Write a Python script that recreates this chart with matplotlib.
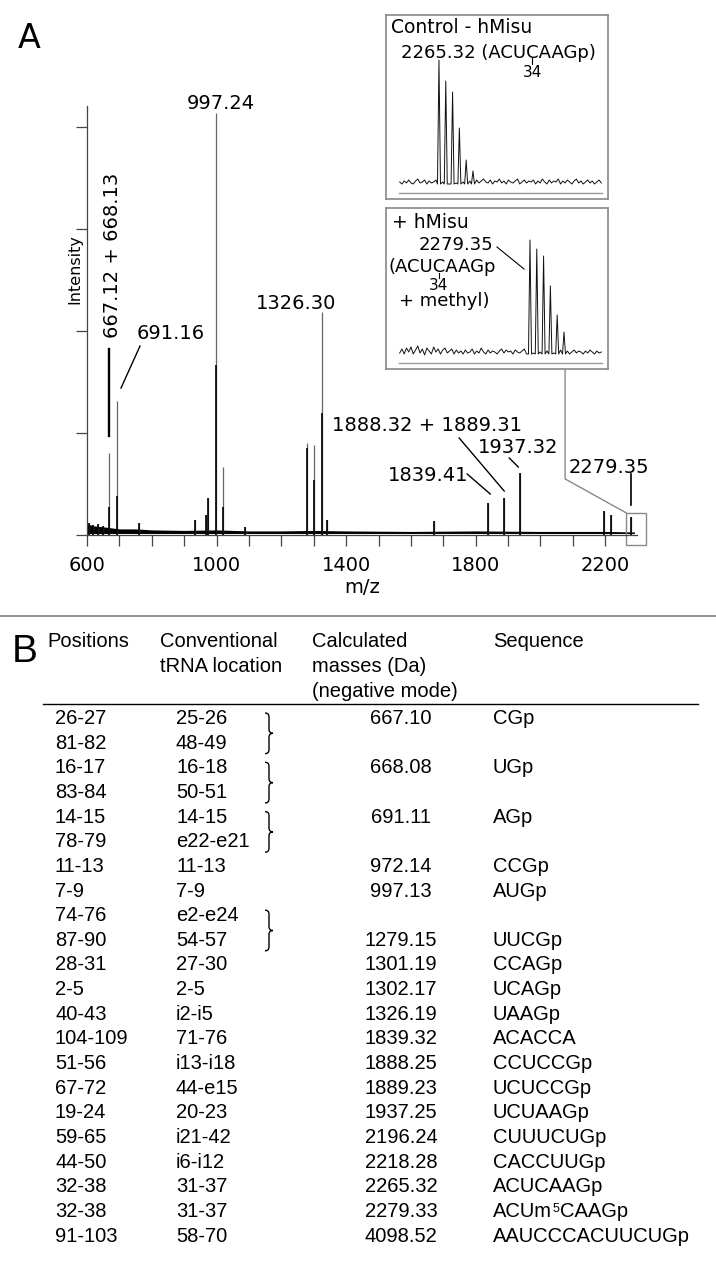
import numpy as np
import matplotlib
matplotlib.use('Agg')
import matplotlib.pyplot as plt
from matplotlib.path import Path
from matplotlib.patches import PathPatch, Rectangle
from matplotlib.lines import Line2D

# ---- panel A: main spectrum ----
peak_mz = [606, 620, 634, 648, 667.12, 691.16, 760, 934, 966, 972.14, 997.24, 1019,
           1088, 1279.15, 1301.19, 1326.30, 1341, 1672, 1839.41, 1888.8, 1937.32,
           2196.24, 2218.28, 2279.35]
peak_int = [0.12, 0.10, 0.11, 0.09, 0.80, 1.31, 0.12, 0.15, 0.20, 0.36, 4.14, 0.67,
            0.08, 0.90, 0.88, 2.19, 0.15, 0.14, 0.31, 0.36, 0.61, 0.24, 0.20, 0.18]
core_int = [0.12, 0.10, 0.11, 0.09, 0.27, 0.38, 0.12, 0.15, 0.20, 0.36, 1.67, 0.27,
            0.08, 0.85, 0.54, 1.20, 0.15, 0.14, 0.31, 0.36, 0.61, 0.24, 0.20, 0.18]

noise_mz = [600, 620, 650, 700, 750, 800, 900, 1000, 1100, 1200, 1300, 1400, 1600,
            1800, 2000, 2200, 2290]
noise_top = [0.11, 0.09, 0.08, 0.06, 0.06, 0.05, 0.045, 0.05, 0.04, 0.04, 0.045,
             0.04, 0.035, 0.04, 0.035, 0.035, 0.03]
noise_low = 0.015

x_ticks = [600, 1000, 1400, 1800, 2200]

# ---- insets ----
ins1_mz = [2265.32, 2266.32, 2267.32, 2268.32, 2269.32, 2270.32]
ins1_int = [133, 112, 101, 65, 33, 22]
ins1_noise = [11, 9, 12, 10, 13, 10, 9, 12, 14, 10, 11, 13, 9, 12, 10, 11, 13, 9, 12, 11,
              10, 12, 9, 13, 11, 10, 12, 9, 11, 13, 10, 12, 11, 9, 13, 10, 12, 14, 11, 10,
              13, 9, 12, 11, 14, 10, 12, 9, 13, 11, 10, 12, 14, 9, 11, 13, 10, 12, 11, 13,
              9, 12, 10, 14, 11, 9, 13, 10, 12, 11, 14, 9, 12, 10, 13, 11, 9, 12, 14, 10,
              12, 9, 11, 13, 10, 12, 9, 11, 13, 10]

ins2_mz = [2279.35, 2280.35, 2281.35, 2282.35, 2283.35, 2284.35]
ins2_int = [123, 114, 107, 77, 48, 31]
ins2_noise = [10, 14, 9, 15, 11, 16, 9, 13, 17, 10, 14, 8, 15, 12, 9, 16, 11, 14, 9, 13,
              15, 10, 12, 14, 9, 13, 10, 12, 9, 13, 10, 11, 14, 9, 12, 10, 15, 11, 9, 13,
              10, 12, 11, 9, 12, 14, 10, 13, 11, 12, 9, 13, 11, 10, 12, 14, 9, 12, 11, 10,
              12, 9, 11, 13, 10, 12, 9, 11, 10, 12, 9, 13, 11, 10, 12, 9, 11, 13, 10, 12,
              11, 9, 12, 10, 13, 11, 9, 12, 10, 11]

# ---- panel B: table ----
positions = ["26-27", "81-82", "16-17", "83-84", "14-15", "78-79", "11-13", "7-9",
             "74-76", "87-90", "28-31", "2-5", "40-43", "104-109", "51-56", "67-72",
             "19-24", "59-65", "44-50", "32-38", "32-38", "91-103"]
trna_loc = ["25-26", "48-49", "16-18", "50-51", "14-15", "e22-e21", "11-13", "7-9",
            "e2-e24", "54-57", "27-30", "2-5", "i2-i5", "71-76", "i13-i18", "44-e15",
            "20-23", "i21-42", "i6-i12", "31-37", "31-37", "58-70"]
masses = ["667.10", "", "668.08", "", "691.11", "", "972.14", "997.13", "", "1279.15",
          "1301.19", "1302.17", "1326.19", "1839.32", "1888.25", "1889.23", "1937.25",
          "2196.24", "2218.28", "2265.32", "2279.33", "4098.52"]
sequences = ["CGp", "", "UGp", "", "AGp", "", "CCGp", "AUGp", "", "UUCGp", "CCAGp",
             "UCAGp", "UAAGp", "ACACCA", "CCUCCGp", "UCUCCGp", "UCUAAGp", "CUUUCUGp",
             "CACCUUGp", "ACUCAAGp", "ACUm^5CAAGp", "AAUCCCACUUCUGp"]
brace_rows = [0, 2, 4, 8]

W, H = 716, 1265
plt.rcParams['font.family'] = 'DejaVu Sans'
fig = plt.figure(figsize=(W / 100, H / 100), dpi=100)


def fx(x):
    return x / W


def fy(y):
    return 1 - y / H


def fline(xs, ys, **kw):
    fig.add_artist(Line2D([fx(x) for x in xs], [fy(y) for y in ys],
                          transform=fig.transFigure, **kw))


# main axes
ax = fig.add_axes([fx(87), fy(535), fx(637) - fx(87), fy(106) - fy(535)])
ax.fill_between(noise_mz, noise_low, noise_top, color='black', lw=0)
ax.vlines(peak_mz, 0, peak_int, color='#666666', lw=0.9)
ax.vlines(peak_mz, 0, core_int, color='black', lw=1.2)
ax.set_xlim(600, 2298)
ax.set_ylim(0, 4.206)
for s in ['top', 'right']:
    ax.spines[s].set_visible(False)
for s in ['left', 'bottom']:
    ax.spines[s].set_color('#444444')
    ax.spines[s].set_linewidth(0.9)
ax.set_xticks(x_ticks)
ax.set_xticks(range(700, 2300, 100), minor=True)
ax.tick_params(axis='x', which='both', direction='out', length=8, width=0.9,
               color='#444444', labelsize=14, pad=7)
ax.set_yticks([0, 1, 2, 3, 4])
ax.set_yticklabels([])
ax.tick_params(axis='y', direction='out', length=8, width=0.9, color='#444444')
ax.set_xlabel('m/z', fontsize=14, labelpad=2.5)
fig.text(fx(79), fy(269), 'Intensity', rotation=90, rotation_mode='anchor',
         ha='center', va='baseline', fontsize=11.5)

# peak labels with leader lines
lab_kw = dict(fontsize=14, va='baseline', clip_on=False)
ax.text(1014, 4.176, '997.24', ha='center', **lab_kw)
ax.text(1245.6, 2.216, '1326.30', ha='center', **lab_kw)
ax.text(858, 1.922, '691.16', ha='center', **lab_kw)
ax.plot([763.7, 705], [1.853, 1.441], color='black', lw=1.0, clip_on=False)
ax.text(695.8, 2.745, '667.12 + 668.13', rotation=90, rotation_mode='anchor',
        ha='center', **lab_kw)
ax.plot([668, 668], [1.824, 0.971], color='black', lw=1.7, clip_on=False)
ax.text(1943.7, 1.020, '1888.32 + 1889.31', ha='right', **lab_kw)
ax.plot([1749, 1888], [0.951, 0.431], color='black', lw=1.0, clip_on=False)
ax.text(1931.4, 0.804, '1937.32', ha='center', **lab_kw)
ax.plot([1903.6, 1931.4], [0.755, 0.667], color='black', lw=1.0, clip_on=False)
ax.text(1653, 0.529, '1839.41', ha='center', **lab_kw)
ax.plot([1773.8, 1844.9], [0.598, 0.402], color='black', lw=1.0, clip_on=False)
ax.text(2212.5, 0.608, '2279.35', ha='center', **lab_kw)
ax.plot([2280, 2280], [0.598, 0.294], color='black', lw=1.2, clip_on=False)

# zoom box and connector to inset
ax.add_patch(Rectangle((2265, -0.098), 62, 0.314, fill=False, ec='#888888', lw=1.0,
                       clip_on=False))
ax.plot([2076, 2076, 2265], [1.63, 0.55, 0.216], color='#888888', lw=1.0, clip_on=False)


def trace(nx, ny, px, py, base, half=0.22):
    pts = [(x, y) for x, y in zip(nx, ny) if min(abs(x - p) for p in px) > half + 0.06]
    for p, h in zip(px, py):
        pts += [(p - half, base), (p, h), (p + half, base)]
    pts.sort()
    xs, ys = zip(*pts)
    return xs, ys


def inset(box, inner, xlim, ytop, nvals, pmz, pint):
    b = fig.add_axes([fx(box[0]), fy(box[3]), fx(box[2]) - fx(box[0]), fy(box[1]) - fy(box[3])])
    b.set_xticks([])
    b.set_yticks([])
    for sp in b.spines.values():
        sp.set_color('#888888')
        sp.set_linewidth(1.2)
    s = fig.add_axes([fx(inner[0]), fy(inner[3]), fx(inner[2]) - fx(inner[0]),
                      fy(inner[1]) - fy(inner[3])])
    s.patch.set_alpha(0)
    for k in ['top', 'right', 'left']:
        s.spines[k].set_visible(False)
    s.spines['bottom'].set_color('#999999')
    s.spines['bottom'].set_linewidth(1.0)
    s.set_xticks([])
    s.set_yticks([])
    nx = np.linspace(xlim[0] + 0.1, xlim[1] - 0.1, len(nvals))
    tx, ty = trace(nx, nvals, pmz, pint, base=9)
    s.plot(tx, ty, color='#111111', lw=0.7)
    s.set_xlim(*xlim)
    s.set_ylim(0, ytop)


inset((386, 15, 608, 199), (399, 50, 602, 193), (2259.44, 2289.3), 143,
      ins1_noise, ins1_mz, ins1_int)
inset((386, 208, 608, 369), (399, 230, 602, 363), (2260.09, 2289.94), 133,
      ins2_noise, ins2_mz, ins2_int)

renderer = fig.canvas.get_renderer()


def text_w(s, size, family='DejaVu Sans'):
    t = fig.text(0, 0, s, fontsize=size, family=family)
    w = t.get_window_extent(renderer).width
    t.remove()
    return w


def c_mark(x0, prefix, size, y_tick, y_num):
    cx = x0 + (text_w(prefix, size) + text_w(prefix + 'C', size)) / 2
    fline([cx, cx], y_tick, color='black', lw=0.8)
    fig.text(fx(cx), fy(y_num), '34', fontsize=11, ha='center', va='baseline')


fig.text(fx(391), fy(33), 'Control - hMisu', fontsize=13.5, va='baseline')
fig.text(fx(401), fy(58), '2265.32 (ACUCAAGp)', fontsize=13, va='baseline')
c_mark(401, '2265.32 (ACU', 13, [58, 64], 77)

fig.text(fx(392), fy(228), '+ hMisu', fontsize=13.5, va='baseline')
fig.text(fx(493), fy(250), '2279.35', fontsize=13, ha='right', va='baseline')
fline([497, 524], [247, 269], color='black', lw=0.8)
fig.text(fx(388), fy(272), '(ACUCAAGp', fontsize=13, va='baseline')
c_mark(388, '(ACU', 13, [273, 278], 290)
fig.text(fx(399), fy(306), '+ methyl)', fontsize=13, va='baseline')

fig.text(fx(18), fy(48), 'A', fontsize=24, va='baseline')

# ---- panel B ----
TAB = 'Liberation Sans'
fline([0, 716], [616, 616], color='#8a8a8a', lw=1.3)
tf = dict(family=TAB, fontsize=14.5, va='baseline')
fig.text(fx(12), fy(662), 'B', family=TAB, fontsize=28, va='baseline')
fig.text(fx(47), fy(647), 'Positions', **tf)
fig.text(fx(160), fy(647), 'Conventional', **tf)
fig.text(fx(160), fy(672), 'tRNA location', **tf)
fig.text(fx(312), fy(647), 'Calculated', **tf)
fig.text(fx(312), fy(672), 'masses (Da)', **tf)
fig.text(fx(312), fy(697), '(negative mode)', **tf)
fig.text(fx(493), fy(647), 'Sequence', **tf)
fline([43, 698], [703.5, 703.5], color='black', lw=1.0)

row_base = 724
pitch = 24.65
for i in range(len(positions)):
    yb = row_base + pitch * i
    fig.text(fx(55), fy(yb), positions[i], **tf)
    fig.text(fx(176), fy(yb), trna_loc[i], **tf)
    if masses[i]:
        fig.text(fx(401), fy(yb), masses[i], ha='center', **tf)
    seq = sequences[i]
    if '^' in seq:
        head, rest = seq.split('^')
        fig.text(fx(493), fy(yb), head, **tf)
        xs = 493 + text_w(head, 14.5, TAB) + 0.5
        fig.text(fx(xs), fy(yb - 5), rest[0], family=TAB, fontsize=9, va='baseline')
        xs += text_w(rest[0], 9, TAB) + 0.5
        fig.text(fx(xs), fy(yb), rest[1:], **tf)
    elif seq:
        fig.text(fx(493), fy(yb), seq, **tf)

# curly braces joining paired rows
for r in brace_rows:
    top = row_base + pitch * r - 11
    bot = row_base + pitch * (r + 1) + 5
    mid = (top + bot) / 2
    x0, w, rr = 265, 8, 4
    xm = x0 + w / 2
    pts = [(x0, top), (xm, top), (xm, top + rr), (xm, mid - rr), (xm, mid), (x0 + w, mid),
           (xm, mid), (xm, mid + rr), (xm, bot - rr), (xm, bot), (x0, bot)]
    codes = [Path.MOVETO, Path.CURVE3, Path.CURVE3, Path.LINETO, Path.CURVE3, Path.CURVE3,
             Path.CURVE3, Path.CURVE3, Path.LINETO, Path.CURVE3, Path.CURVE3]
    path = Path([(fx(x), fy(y)) for x, y in pts], codes)
    fig.add_artist(PathPatch(path, fill=False, lw=1.0, ec='black',
                             transform=fig.transFigure))

fig.savefig('out.png', dpi=100)
